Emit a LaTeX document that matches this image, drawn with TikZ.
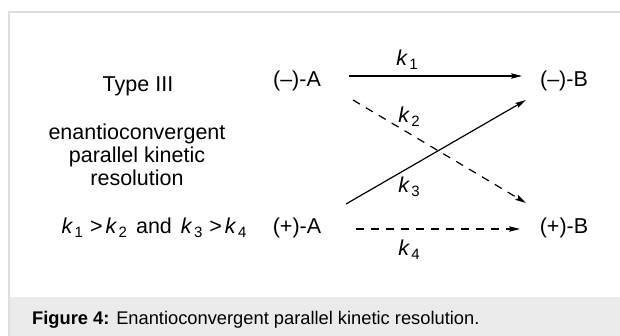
\documentclass[tikz,border=0pt]{standalone}
\usepackage{fontspec}
\setmainfont{Liberation Sans}
\usetikzlibrary{arrows.meta,calc}
\definecolor{KinFrame}{RGB}{222,222,222}
\definecolor{KinBand}{RGB}{235,235,235}
\newcommand{\rk}[1]{\textit{k}\kern1.5pt\raisebox{-4pt}{\fontsize{15}{15}\selectfont #1}}
\tikzset{
  kin/species/.style={
    inner sep=0pt,
    font=\fontsize{21.5}{23}\selectfont
  },
  kin/text/.style={
    inner sep=0pt,
    align=center,
    font=\fontsize{21.5}{23}\selectfont
  },
  kin/rate/.style={inner sep=0pt, font=\fontsize{21.5}{23}\selectfont},
  kin/arrow/.style={-{Stealth[length=11pt,width=5.5pt,inset=2pt]}, line width=1.2pt, draw=black},
  kin/dasharrow/.style={kin/arrow, dash pattern=on 8pt off 7pt},
  kin/caption/.style={anchor=west, inner sep=0pt, font=\fontsize{18.3}{20}\selectfont}
}
\begin{document}
\begin{tikzpicture}[x=1pt,y=-1pt]
  \useasboundingbox (0,0) rectangle (620,336);
  \fill[KinBand] (9,297) rectangle (620,336);
  \draw[KinFrame, line width=1.5pt] (620,12) -- (9,12) -- (9,336);
  \node[kin/text] (type) at (138,86) {Type III};
  \node[kin/text] (name) at (137,155) {enantioconvergent\\parallel kinetic\\resolution};
  \node[kin/text] (rel) at (154,228) {\rk{1}\hspace{7pt}>\hspace{3pt}\rk{2}\hspace{9pt}and\hspace{9pt}\rk{3}\hspace{7pt}>\hspace{3pt}\rk{4}};
  \node[kin/species] (mA) at (297,81) {(–)-A};
  \node[kin/species] (mB) at (564,81) {(–)-B};
  \node[kin/species] (pA) at (297,228) {(+)-A};
  \node[kin/species] (pB) at (564,228) {(+)-B};
  \node[kin/rate] (k1) at (407,60) {\rk{1}};
  \node[kin/rate] (k2) at (409,117) {\rk{2}};
  \node[kin/rate] (k3) at (409,187) {\rk{3}};
  \node[kin/rate] (k4) at (409,250) {\rk{4}};
  \draw[kin/arrow] ($(mA.center)+(52,-5)$) -- ($(mB.center)+(-42,-5)$);
  \draw[kin/dasharrow] ($(mA.center)+(56,19)$) -- ($(pB.center)+(-38,-25)$);
  \draw[kin/arrow] ($(pA.center)+(49,-24)$) -- ($(mB.center)+(-38,19)$);
  \draw[kin/dasharrow] ($(pA.center)+(59,1)$) -- ($(pB.center)+(-44,1)$);
  \node[kin/caption] (cap) at (32,320) {\textbf{Figure 4:} Enantioconvergent parallel kinetic resolution.};
\end{tikzpicture}
\end{document}
